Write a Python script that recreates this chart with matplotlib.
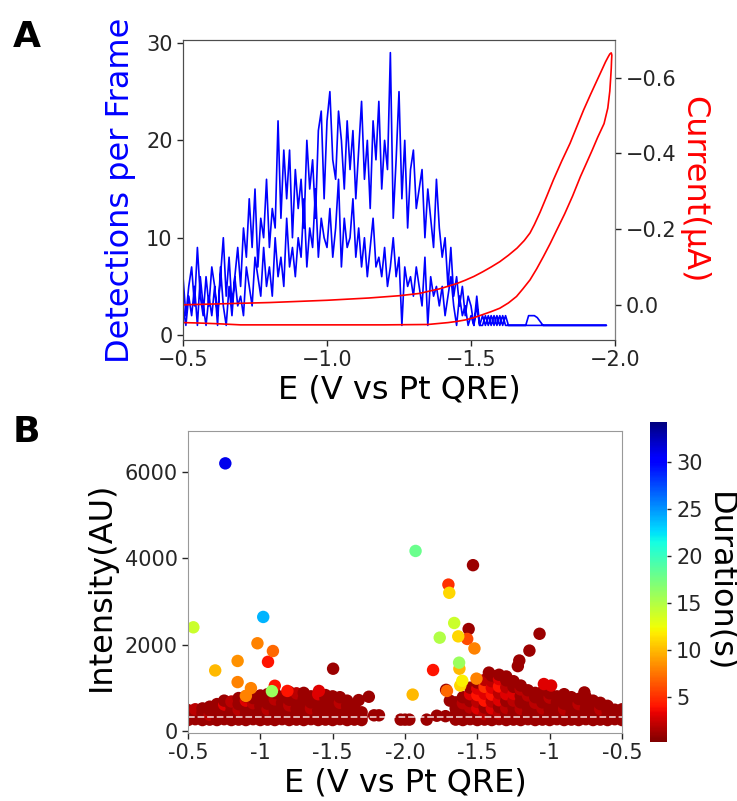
import matplotlib
matplotlib.use("Agg")
import matplotlib.pyplot as plt
import numpy as np

# ---- panel A: detections per frame (two sweeps) and CV current ----
E_step = 0.01
n_det = 148  # -0.50 ... -1.97 V
det_fwd = [
    6, 2, 5, 7, 3, 9, 4, 2, 6, 3,
    7, 5, 2, 6, 10, 4, 8, 3, 6, 9,
    5, 11, 8, 14, 9, 15, 7, 12, 10, 16,
    9, 13, 11, 22, 12, 19, 14, 19, 10, 17,
    13, 16, 11, 20, 15, 18, 12, 21, 23, 14,
    22, 25, 18, 16, 23, 20, 15, 22, 17, 21,
    14, 19, 24, 16, 20, 13, 22, 18, 24, 15,
    20, 17, 29, 12, 18, 25, 14, 20, 11, 17,
    19, 13, 15, 17, 10, 15, 12, 9, 16, 11,
    8, 10, 5, 9, 4, 6, 3, 5, 2, 4,
    3, 1, 4, 1, 2, 1, 2, 1, 2, 1,
    2, 1, 2, 1, 1, 1, 1, 1, 1, 1,
    2, 2, 2, 1.8, 1.4, 1, 1, 1, 1, 1,
    1, 1, 1, 1, 1, 1, 1, 1, 1, 1,
    1, 1, 1, 1, 1, 1, 1, 1,
]
det_rev = [
    3, 1, 4, 2, 5, 1, 6, 3, 1, 4,
    2, 5, 1, 7, 3, 1, 5, 2, 6, 3,
    4, 2, 7, 5, 3, 8, 6, 4, 9, 5,
    7, 4, 10, 6, 8, 5, 12, 7, 9, 6,
    10, 8, 14, 7, 11, 9, 15, 8, 12, 10,
    9, 13, 8, 11, 16, 7, 12, 9, 10, 14,
    8, 11, 7, 10, 6, 9, 12, 7, 8, 6,
    9, 5, 7, 10, 6, 8, 1, 7, 5, 6,
    4, 7, 5, 3, 8, 1, 6, 4, 5, 3,
    5, 2, 4, 6, 3, 1, 4, 2, 3, 1,
    2, 1, 3, 1, 1, 2, 1, 2, 1, 2,
    1, 2, 1, 1, 1, 1, 1, 1, 1, 1,
    1, 1, 1, 1, 1, 1, 1, 1, 1, 1,
    1, 1, 1, 1, 1, 1, 1, 1, 1, 1,
    1, 1, 1, 1, 1, 1, 1, 1,
]

cv_E = [-0.50, -0.65, -0.80, -1.00, -1.145, -1.25, -1.32, -1.36, -1.39, -1.42,
        -1.45, -1.48, -1.51, -1.54, -1.57, -1.60, -1.63, -1.66, -1.685, -1.705,
        -1.72, -1.74, -1.763, -1.786, -1.815, -1.844, -1.868, -1.891, -1.915, -1.938,
        -1.955, -1.967, -1.976, -1.982, -1.987, -1.989, -1.988, -1.987, -1.985, -1.982,
        -1.975, -1.962, -1.94, -1.921, -1.90, -1.880, -1.853, -1.825, -1.798, -1.775,
        -1.751, -1.728, -1.705, -1.68, -1.658, -1.63, -1.60, -1.57, -1.54, -1.51,
        -1.48, -1.45, -1.42, -1.35, -1.20, -1.00, -0.80, -0.70, -0.62, -0.55,
        -0.50]
cv_I = [0.000, -0.003, -0.006, -0.012, -0.018, -0.024, -0.030, -0.037, -0.042, -0.049,
        -0.056, -0.065, -0.075, -0.087, -0.100, -0.114, -0.131, -0.150, -0.170, -0.190,
        -0.212, -0.245, -0.287, -0.330, -0.380, -0.427, -0.472, -0.515, -0.556, -0.594,
        -0.622, -0.642, -0.655, -0.663, -0.666, -0.660, -0.645, -0.625, -0.600, -0.565,
        -0.520, -0.479, -0.443, -0.409, -0.373, -0.339, -0.288, -0.240, -0.198, -0.162,
        -0.127, -0.095, -0.066, -0.042, -0.022, -0.005, 0.009, 0.018, 0.026, 0.034,
        0.040, 0.044, 0.047, 0.052, 0.053, 0.053, 0.053, 0.053, 0.050, 0.048,
        0.047]

# ---- panel B: single events, intensity vs potential, coloured by duration ----
fwd_cloud_E = [-0.50, -0.55, -0.60, -0.65, -0.70, -0.75, -0.80, -0.85, -0.90, -0.95,
               -1.00, -1.05, -1.10, -1.15, -1.20, -1.25, -1.30, -1.35, -1.40, -1.45,
               -1.50, -1.55, -1.60, -1.65, -1.70]
fwd_cloud_I = [
    [250, 340, 430, 480], [270, 380, 500], [250, 330, 420, 520], [260, 370, 480, 560],
    [250, 350, 450, 540, 620], [270, 380, 500, 610, 700], [250, 340, 460, 570, 680],
    [260, 370, 490, 620, 760], [250, 360, 470, 590, 700, 800], [270, 380, 510, 640, 760],
    [250, 350, 460, 580, 700, 820], [260, 380, 500, 630, 750, 850],
    [250, 360, 470, 600, 730, 880], [270, 390, 520, 650, 790],
    [250, 350, 470, 590, 720, 900], [260, 380, 510, 640, 780, 870],
    [250, 360, 480, 610, 740, 880], [270, 390, 520, 660, 800],
    [250, 350, 470, 600, 720, 850], [260, 380, 500, 630, 760, 830],
    [250, 360, 490, 620, 800], [270, 380, 510, 650, 780], [250, 350, 470, 580, 700],
    [260, 380, 500, 600], [250, 340, 430],
]
fwd_cloud_dur = [
    [1, 1, 1, 1], [1, 1, 2], [1, 1, 1, 1], [1, 2, 1, 1],
    [1, 1, 1, 1, 1], [1, 1, 1, 3, 1], [1, 1, 1, 1, 2],
    [1, 1, 2, 1, 1], [1, 1, 1, 1, 3, 1], [1, 1, 1, 2, 1],
    [1, 1, 1, 1, 1, 1], [1, 1, 2, 1, 1, 1],
    [1, 1, 1, 1, 2, 1], [1, 1, 1, 1, 1],
    [1, 1, 1, 2, 1, 1], [1, 1, 1, 1, 1, 2],
    [1, 1, 1, 1, 1, 1], [1, 1, 2, 1, 1],
    [1, 1, 1, 1, 1, 3], [1, 1, 1, 1, 1, 1],
    [1, 1, 1, 1, 1], [1, 1, 1, 2, 1], [1, 1, 1, 1, 1],
    [1, 1, 1, 1], [1, 1, 1],
]

rev_cloud_E = [-1.65, -1.60, -1.55, -1.50, -1.45, -1.40, -1.35, -1.30, -1.25, -1.20,
               -1.15, -1.10, -1.05, -1.00, -0.95, -0.90, -0.85, -0.80, -0.75, -0.70,
               -0.65, -0.60, -0.55, -0.50]
rev_cloud_I = [
    [260, 380, 520, 660], [250, 370, 500, 640, 780], [270, 400, 540, 690, 850, 1000],
    [250, 380, 520, 670, 830, 980, 1120], [260, 390, 540, 700, 860, 1020, 1180],
    [250, 370, 520, 680, 840, 1000, 1150, 1280], [270, 400, 550, 710, 870, 1030, 1200, 1300],
    [250, 380, 530, 690, 850, 1010, 1170, 1260], [260, 390, 540, 700, 860, 1020, 1150],
    [250, 370, 510, 660, 810, 960, 1050], [270, 400, 540, 680, 820, 940],
    [250, 370, 510, 650, 780, 880], [260, 390, 520, 660, 790, 900],
    [250, 370, 500, 640, 770, 870], [270, 400, 530, 660, 800],
    [250, 370, 500, 630, 760, 850], [260, 380, 510, 640, 780], [250, 370, 490, 620, 740],
    [270, 390, 510, 640, 780], [250, 360, 480, 600, 700], [260, 380, 500, 620, 650],
    [250, 360, 470, 580], [270, 380, 490], [250, 350, 450, 500],
]
rev_cloud_dur = [
    [1, 1, 1, 1], [1, 1, 1, 2, 1], [1, 1, 2, 1, 3, 1],
    [1, 1, 3, 2, 4, 3, 1], [1, 2, 1, 4, 3, 5, 2],
    [1, 1, 3, 2, 4, 3, 2, 1], [1, 2, 1, 3, 2, 4, 3, 1],
    [1, 1, 2, 1, 3, 2, 1, 1], [1, 1, 1, 2, 3, 1, 1],
    [1, 1, 2, 1, 1, 2, 1], [1, 1, 1, 1, 2, 1],
    [1, 1, 1, 2, 1, 1], [1, 1, 2, 1, 1, 1],
    [1, 1, 1, 1, 2, 1], [1, 1, 1, 1, 1],
    [1, 1, 2, 1, 1, 1], [1, 1, 1, 1, 1], [1, 1, 1, 2, 1],
    [1, 1, 1, 1, 1], [1, 1, 1, 1, 1], [1, 1, 2, 1, 1],
    [1, 1, 1, 1], [1, 1, 1], [1, 1, 1, 1],
]

fwd_E = [-0.758, -0.537, -1.02, -0.98, -1.087, -1.053, -0.843, -0.688, -0.843, -0.935,
         -1.08, -1.10, -1.503, -1.68, -1.75, -1.786, -1.82, -0.90, -1.187, -1.405,
         -1.97, -2.0]
fwd_I = [6200, 2400, 2640, 2030, 1850, 1600, 1620, 1400, 1130, 990,
         920, 1045, 1440, 713, 790, 360, 360, 810, 925, 925,
         260, 260]
fwd_dur = [31, 14, 24, 8, 7, 4, 8.5, 10, 8, 8,
           16, 4, 1, 1, 1, 1, 1, 8, 4, 3,
           1, 1]

rev_E = [-1.927, -1.53, -1.70, -1.694, -1.66, -1.76, -1.632, -1.56, -1.57, -1.52,
         -1.626, -1.624, -1.806, -1.604, -1.618, -1.947, -1.716, -1.69, -1.506, -1.42,
         -1.07, -1.14, -1.21, -1.22, -1.04, -0.99, -0.76, -1.97, -1.85, -1.78,
         -1.72, -1.71]
rev_I = [4170, 3840, 3390, 3200, 2500, 2160, 2190, 2360, 2130, 1910,
         1580, 1440, 1410, 1160, 1050, 840, 950, 700, 1210, 1350,
         2250, 1860, 1630, 1500, 1085, 1050, 890, 260, 260, 350,
         340, 925]
rev_dur = [18, 1, 5, 11, 14, 15, 11, 1, 6, 8,
           16, 10, 4, 12, 11, 10, 1, 1, 8, 1,
           1, 1, 1, 1, 3, 3, 1, 1, 1, 1,
           1, 7]

baseline = 330
sweep_ticks = [0, 0.5, 1.0, 1.5, 2.0, 2.5, 3.0]
sweep_labels = ["-0.5", "-1", "-1.5", "-2.0", "-1.5", "-1", "-0.5"]
dur_min, dur_max = 0.2, 34.3

TICK = 15
LABEL = 23

fig = plt.figure(figsize=(7.37, 8.01), dpi=100)

# ---------------- A ----------------
ax = fig.add_axes([183 / 737, 1 - 340 / 801, 432 / 737, 300 / 801])
E_grid = -0.5 - E_step * np.arange(n_det)
E_line = np.concatenate([E_grid, E_grid[::-1]])
det_line = np.concatenate([det_fwd, det_rev[::-1]])
ax.plot(E_line, det_line, color="blue", lw=1.2)
ax.set_xlim(-0.5, -2.0)
ax.set_ylim(-0.5, 30.3)
ax.set_xticks([-0.5, -1.0, -1.5, -2.0])
ax.set_yticks([0, 10, 20, 30])
ax.tick_params(labelsize=TICK, length=4, width=1, colors="0.15")
ax.set_xlabel("E (V vs Pt QRE)", fontsize=LABEL, va="center")
ax.xaxis.set_label_coords(0.5, -0.167)
ax.set_ylabel("Detections per Frame", fontsize=LABEL, color="blue", va="center")
ax.yaxis.set_label_coords(-0.144, 0.5)

ax2 = ax.twinx()
ax2.plot(cv_E, cv_I, color="red", lw=1.2)
ax2.set_ylim(0.093, -0.70)
ax2.set_yticks([-0.6, -0.4, -0.2, 0.0])
ax2.tick_params(labelsize=TICK, length=4, width=1, colors="0.15")
ax2.set_ylabel("Current(μA)", fontsize=LABEL, color="red", rotation=270, va="center")
ax2.yaxis.set_label_coords(1.182, 0.5)
for a in (ax, ax2):
    for s in a.spines.values():
        s.set_color("0.3")
ax2.spines["right"].set_color("0.5")

# ---------------- B ----------------
bx = fig.add_axes([188 / 737, 1 - 733 / 801, 434 / 737, 302 / 801])

cx, cy, cd = [], [], []
for E, Is, ds in zip(fwd_cloud_E, fwd_cloud_I, fwd_cloud_dur):
    cx += [-0.5 - E] * len(Is)
    cy += Is
    cd += ds
for E, Is, ds in zip(rev_cloud_E, rev_cloud_I, rev_cloud_dur):
    cx += [3.5 + E] * len(Is)
    cy += Is
    cd += ds

ox = [-0.5 - e for e in fwd_E] + [3.5 + e for e in rev_E]
oy = fwd_I + rev_I
od = fwd_dur + rev_dur
order = np.argsort(od, kind="stable")
ox = np.array(ox)[order]
oy = np.array(oy)[order]
od = np.array(od)[order]

norm = matplotlib.colors.Normalize(dur_min, dur_max)
bx.scatter(cx, cy, c=cd, cmap="jet_r", norm=norm, s=80, linewidths=0)
sc = bx.scatter(ox, oy, c=od, cmap="jet_r", norm=norm, s=80, linewidths=0)
bx.axhline(baseline, color="white", lw=1.3, ls="--", alpha=0.75)

bx.set_xlim(0, 3)
bx.set_ylim(-50, 6950)
bx.set_xticks(sweep_ticks)
bx.set_xticklabels(sweep_labels)
bx.set_yticks([0, 2000, 4000, 6000])
bx.tick_params(labelsize=TICK, length=4, width=1, colors="0.15")
bx.set_xlabel("E (V vs Pt QRE)", fontsize=LABEL, va="center")
bx.xaxis.set_label_coords(0.5, -0.166)
bx.set_ylabel("Intensity(AU)", fontsize=LABEL, va="center")
bx.yaxis.set_label_coords(-0.2, 0.485)
for s in bx.spines.values():
    s.set_color("0.6")

cax = fig.add_axes([650 / 737, 1 - 742 / 801, 17 / 737, 320 / 801])
cb = fig.colorbar(sc, cax=cax)
cb.set_ticks([5, 10, 15, 20, 25, 30])
cb.ax.tick_params(labelsize=TICK, length=3, width=1, colors="0.15")
cb.outline.set_visible(False)
cb.set_label("Duration(s)", fontsize=LABEL, rotation=270, va="center")
cb.ax.yaxis.set_label_coords(4.12, 0.5)

fig.text(27 / 737, 1 - 37 / 801, "A", fontsize=26, fontweight="bold", ha="center", va="center")
fig.text(26 / 737, 1 - 432 / 801, "B", fontsize=26, fontweight="bold", ha="center", va="center")

fig.savefig("out.png", dpi=100)
